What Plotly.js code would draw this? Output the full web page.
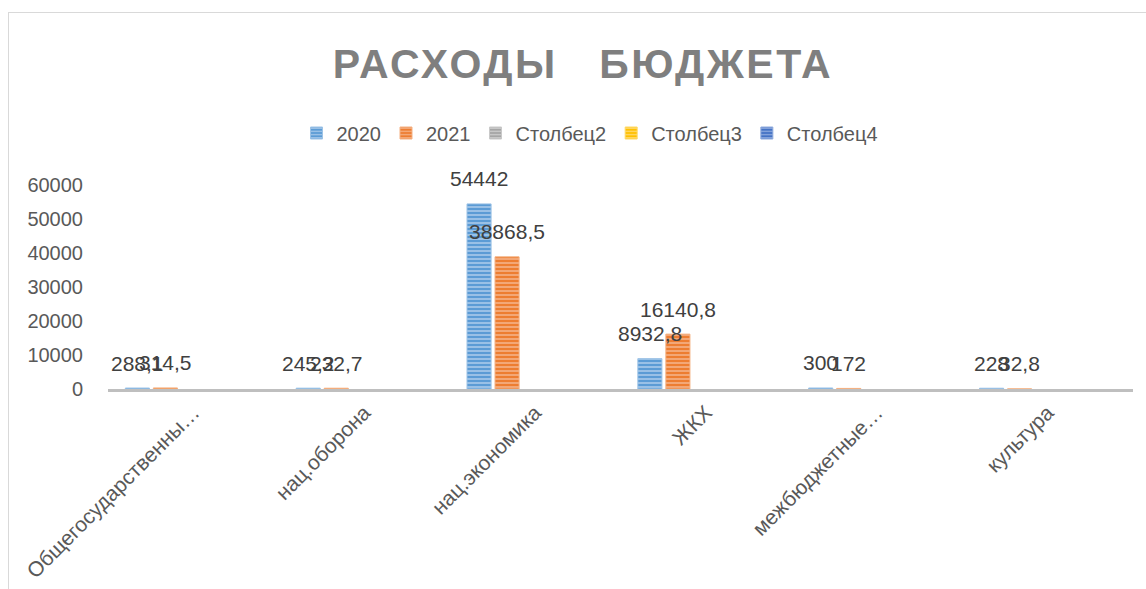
<!DOCTYPE html>
<html>
<head>
<meta charset="utf-8">
<script src="https://cdn.plot.ly/plotly-3.0.1.min.js"></script>
<style>
  html, body { margin: 0; padding: 0; background: #ffffff; }
  #wrap { position: relative; width: 1146px; height: 589px; }
  #chart { width: 1146px; height: 589px; }
  #frame { position: absolute; left: 8px; top: 12px; right: 0; bottom: 0;
           border-left: 1px solid #d9d9d9; border-top: 1px solid #d9d9d9; pointer-events: none; }
</style>
</head>
<body>
<div id="wrap"><div id="chart"></div><div id="frame"></div></div>
<script>
// ---- data ----
const categories = ["Общегосударственны…", "нац.оборона", "нац.экономика", "ЖКХ", "межбюджетные…", "культура"];
const seriesNames = ["2020", "2021", "Столбец2", "Столбец3", "Столбец4"];
const values2020 = [288.1, 245.2, 54442, 8932.8, 300, 228];
const values2021 = [314.5, 232.7, 38868.5, 16140.8, 172, 32.8];
const valuesCol2 = [null, null, null, null, null, null];
const valuesCol3 = [null, null, null, null, null, null];
const valuesCol4 = [null, null, null, null, null, null];
const yTicks = [0, 10000, 20000, 30000, 40000, 50000, 60000];

// ---- styles ----
const colors = ["#5b9bd5", "#ed7d31", "#a5a5a5", "#ffc000", "#4472c4"];
const stripe = ["#b4d0ee", "#f6b994", "#d6d6d6", "#ffe08a", "#9db5e4"];
const outline = ["#9dc3e6", "#f4b183", "#c9c9c9", "#ffd966", "#8faadc"];
const allValues = [values2020, values2021, valuesCol2, valuesCol3, valuesCol4];

const FONT = "Liberation Sans, Arial, sans-serif";
const margin = { l: 108, r: 13, t: 185, b: 200 };
const bargap = 0.18, bargroupgap = 0.14;

const traces = allValues.map((vals, i) => ({
  type: "bar",
  name: seriesNames[i],
  x: categories,
  y: vals,
  marker: {
    color: colors[i],
    line: { color: outline[i], width: 1 },
    pattern: { shape: "-", fillmode: "replace", bgcolor: colors[i], fgcolor: stripe[i], size: 4, solidity: 0.35 }
  },
  hoverinfo: "skip"
}));

// data labels, placed from the data through the axes
const plotW = 1146 - margin.l - margin.r;
const slotW = plotW / categories.length * (1 - bargap) / seriesNames.length;
const fmt = v => String(v).replace(".", ",");
const annotations = [];
allValues.forEach((vals, i) => {
  vals.forEach((v, j) => {
    if (v === null) return;
    annotations.push({
      x: categories[j], y: v, xref: "x", yref: "y",
      text: fmt(v), showarrow: false,
      xshift: (i - (seriesNames.length - 1) / 2) * slotW,
      yshift: 25, yanchor: "middle",
      font: { family: FONT, size: 21, color: "#404040" }
    });
  });
});

const layout = {
  width: 1146, height: 589,
  margin: Object.assign({ autoexpand: false }, margin),
  paper_bgcolor: "#ffffff", plot_bgcolor: "#ffffff",
  barmode: "group", bargap: bargap, bargroupgap: bargroupgap,
  title: {
    text: "РАСХОДЫ\u00a0\u00a0\u00a0БЮДЖЕТА",
    font: { family: FONT, size: 41, color: "#7f7f7f", weight: "bold" },
    x: 583 / 1146, xanchor: "center", xref: "container",
    y: 1 - 64 / 589, yanchor: "middle"
  },
  showlegend: true,
  legend: {
    orientation: "h", x: (590 - 108) / 1025, xanchor: "center", xref: "paper",
    y: (389 - 133) / 204, yanchor: "middle",
    font: { family: FONT, size: 20, color: "#595959" },
    itemwidth: 30, traceorder: "normal"
  },
  xaxis: {
    type: "category",
    tickangle: -45,
    automargin: false,
    tickfont: { family: FONT, size: 21, color: "#595959" },
    showline: true, linecolor: "#bfbfbf", linewidth: 3,
    showgrid: false, zeroline: false, ticks: ""
  },
  yaxis: {
    range: [0, 60000],
    automargin: false,
    tickvals: yTicks,
    ticktext: yTicks.map(String),
    tickfont: { family: FONT, size: 20, color: "#595959" },
    showgrid: false, zeroline: false, showline: false,
    ticks: "outside", ticklen: 20, tickcolor: "rgba(0,0,0,0)"
  },
  annotations: annotations
};

Plotly.newPlot("chart", traces, layout, { displayModeBar: false, staticPlot: true }).then(() => {
  const t = document.querySelector(".gtitle");
  if (t) t.style.letterSpacing = "2.5px";
});
</script>
</body>
</html>
